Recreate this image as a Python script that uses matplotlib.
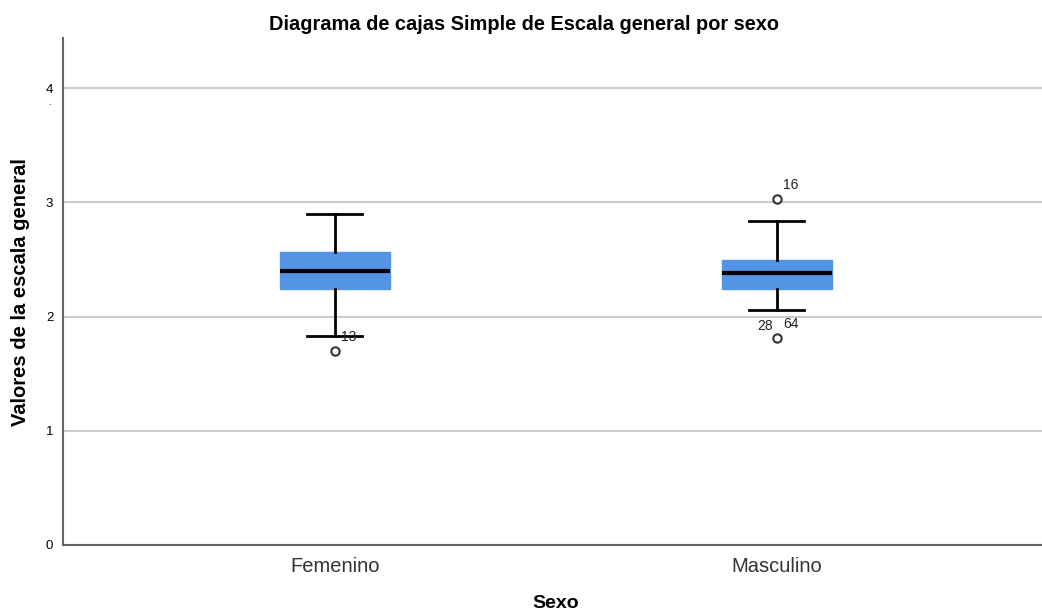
import matplotlib.pyplot as plt

plt.rcParams['font.family'] = ['Liberation Sans', 'DejaVu Sans']

# values
groups = ["Femenino", "Masculino"]
q1 = [2.24, 2.24]
med = [2.40, 2.38]
q3 = [2.57, 2.50]
whislo = [1.83, 2.06]
whishi = [2.90, 2.84]
fliers = [[1.70], [3.03, 1.81]]
# outlier case labels: (group index, value, label, dx px, dy px)
flier_labels = [
    (0, 1.70, "13", 6, 14),
    (1, 3.03, "16", 6, 14),
    (1, 1.81, "28", -20, 12),
    (1, 1.81, "64", 6, 14),
]
yticks = [0, 1, 2, 3, 4]

box_color = "#5394e5"

fig = plt.figure(figsize=(10.42, 6.14), dpi=100)
ax = fig.add_axes([0.0605, 0.1124, 0.9395, 0.8256])

stats = []
for i, g in enumerate(groups):
    stats.append(dict(label=g, q1=q1[i], med=med[i], q3=q3[i],
                      whislo=whislo[i], whishi=whishi[i], fliers=fliers[i]))

ax.bxp(stats, positions=[0, 1], widths=0.25, patch_artist=True,
       boxprops=dict(facecolor=box_color, edgecolor=box_color, linewidth=1),
       medianprops=dict(color="black", linewidth=3),
       whiskerprops=dict(color="black", linewidth=2),
       capprops=dict(color="black", linewidth=2),
       capwidths=0.125,
       flierprops=dict(marker="o", markerfacecolor="white",
                       markeredgecolor="#333333", markersize=6,
                       markeredgewidth=1.5),
       zorder=3)

px = 72 / 100
for gi, val, lab, dx, dy in flier_labels:
    ax.annotate(lab, (gi, val), xytext=(dx * px, dy * px),
                textcoords="offset points", fontsize=10,
                ha="left", va="center", color="#222222")

ax.set_xlim(-0.615, 1.60)
ax.set_ylim(0, 4.44)
ax.set_yticks(yticks)
ax.set_yticklabels([str(t) for t in yticks], fontsize=9.5)
ax.set_xticks([0, 1])
ax.set_xticklabels(groups, fontsize=14.5, color="#333333")
ax.tick_params(axis="x", length=0, pad=9)
ax.tick_params(axis="y", length=0, pad=7)

ax.yaxis.grid(True, color="#cccccc", linewidth=1.5)
ax.set_axisbelow(True)
for s in ["top", "right"]:
    ax.spines[s].set_visible(False)
for s in ["left", "bottom"]:
    ax.spines[s].set_color("#666666")
    ax.spines[s].set_linewidth(1.5)

fig.text(0.020, 1 - 292 / 614, "Valores de la escala general", rotation=90,
         ha="center", va="center", fontsize=14.5, fontweight="bold")
fig.text(556 / 1042, 1 - 603 / 614, "Sexo", ha="center", va="center",
         fontsize=14, fontweight="bold")
fig.text(524 / 1042, 1 - 25 / 614,
         "Diagrama de cajas Simple de Escala general por sexo",
         ha="center", va="center", fontsize=14.4, fontweight="bold")
fig.text(0.047, 0.834, ".", fontsize=7, ha="center", va="center")

fig.savefig("out.png", dpi=100)
